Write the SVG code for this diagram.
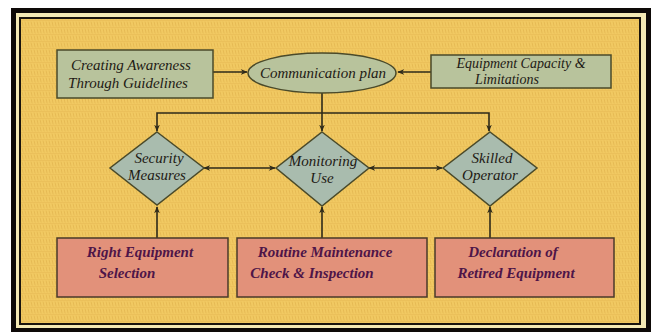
<svg xmlns="http://www.w3.org/2000/svg" width="654" height="332" viewBox="0 0 654 332">
<defs>
<pattern id="weave" width="6" height="7" patternUnits="userSpaceOnUse">
<rect width="6" height="7" fill="#f1c962"/>
<path d="M1 0.5 L2.2 5.5 M4 0.5 L5.2 5.5" stroke="#dcae48" stroke-width="1" opacity="0.55"/>
<path d="M0 6.5 H6" stroke="#e4b652" stroke-width="0.8" opacity="0.6"/>
</pattern>
<marker id="ah" viewBox="0 0 10 10" refX="9" refY="5" markerWidth="7" markerHeight="7" orient="auto-start-reverse" markerUnits="userSpaceOnUse">
<path d="M0 1 L10 5 L0 9 L3 5 Z" fill="#2e2a1a"/>
</marker>
</defs>
<style>
.sage{fill:#b8c39c;stroke:#4a4a2a;stroke-width:1.5}
.dia{fill:#a9bcae;stroke:#4a4a2a;stroke-width:1.5}
.red{fill:#e2917a;stroke:#4a3a2a;stroke-width:1.5}
.t{font-family:"Liberation Serif",serif;font-style:italic;font-size:15px;fill:#1e1a14;text-anchor:middle}
.s{font-size:14px}
.b{font-family:"Liberation Serif",serif;font-style:italic;font-weight:bold;font-size:15px;fill:#4e1548;text-anchor:middle}
.c{fill:none;stroke:#2e2a1a;stroke-width:1.6}
</style>
<rect width="654" height="332" fill="#ffffff"/>
<rect x="11" y="8" width="640" height="324" fill="#0e0a08"/>
<rect x="16" y="13" width="630" height="315" fill="#f4e9b4"/>
<rect x="19" y="17" width="622" height="308" fill="#1a140c"/>
<rect x="21" y="19" width="618" height="304" fill="url(#weave)"/>

<g id="connectors">
<path class="c" d="M213 72 H247" marker-end="url(#ah)"/>
<path class="c" d="M431 72 H398" marker-end="url(#ah)"/>
<path class="c" d="M322 93 V131" marker-end="url(#ah)"/>
<path class="c" d="M157 131 V113 H489 V131" marker-start="url(#ah)" marker-end="url(#ah)"/>
<path class="c" d="M204 168 H275" marker-start="url(#ah)" marker-end="url(#ah)"/>
<path class="c" d="M369 168 H442" marker-start="url(#ah)" marker-end="url(#ah)"/>
<path class="c" d="M157 238 V207" marker-end="url(#ah)"/>
<path class="c" d="M322 238 V207" marker-end="url(#ah)"/>
<path class="c" d="M490 238 V207" marker-end="url(#ah)"/>
</g>

<g id="creating-awareness">
<rect class="sage" x="57" y="50" width="156" height="48"/>
<text class="t" x="131" y="70">Creating Awareness</text>
<text class="t" x="128" y="88">Through Guidelines</text>
</g>
<g id="communication-plan">
<ellipse class="sage" cx="322" cy="73" rx="74" ry="20"/>
<text class="t" x="323" y="78">Communication plan</text>
</g>
<g id="equipment-capacity">
<rect class="sage" x="431" y="55" width="180" height="33"/>
<text class="t s" x="521" y="68">Equipment Capacity &amp;</text>
<text class="t s" x="507" y="84">Limitations</text>
</g>
<g id="security-measures">
<path class="dia" d="M157 132 L204 168 L157 205 L110 168 Z"/>
<text class="t" x="159" y="163">Security</text>
<text class="t" x="157" y="180">Measures</text>
</g>
<g id="monitoring-use">
<path class="dia" d="M322 132 L369 168 L322 206 L276 168 Z"/>
<text class="t" x="323" y="166">Monitoring</text>
<text class="t" x="322" y="183">Use</text>
</g>
<g id="skilled-operator">
<path class="dia" d="M490 132 L537 168 L490 206 L443 168 Z"/>
<text class="t" x="492" y="163">Skilled</text>
<text class="t" x="490" y="180">Operator</text>
</g>
<g id="right-equipment">
<rect class="red" x="57" y="238" width="171" height="59"/>
<text class="b" x="140" y="257">Right Equipment</text>
<text class="b" x="127" y="278">Selection</text>
</g>
<g id="routine-maintenance">
<rect class="red" x="237" y="238" width="190" height="59"/>
<text class="b" x="325" y="257">Routine Maintenance</text>
<text class="b" x="312" y="278">Check &amp; Inspection</text>
</g>
<g id="declaration">
<rect class="red" x="435" y="238" width="179" height="59"/>
<text class="b" x="513" y="257">Declaration of</text>
<text class="b" x="516" y="278">Retired Equipment</text>
</g>
</svg>
